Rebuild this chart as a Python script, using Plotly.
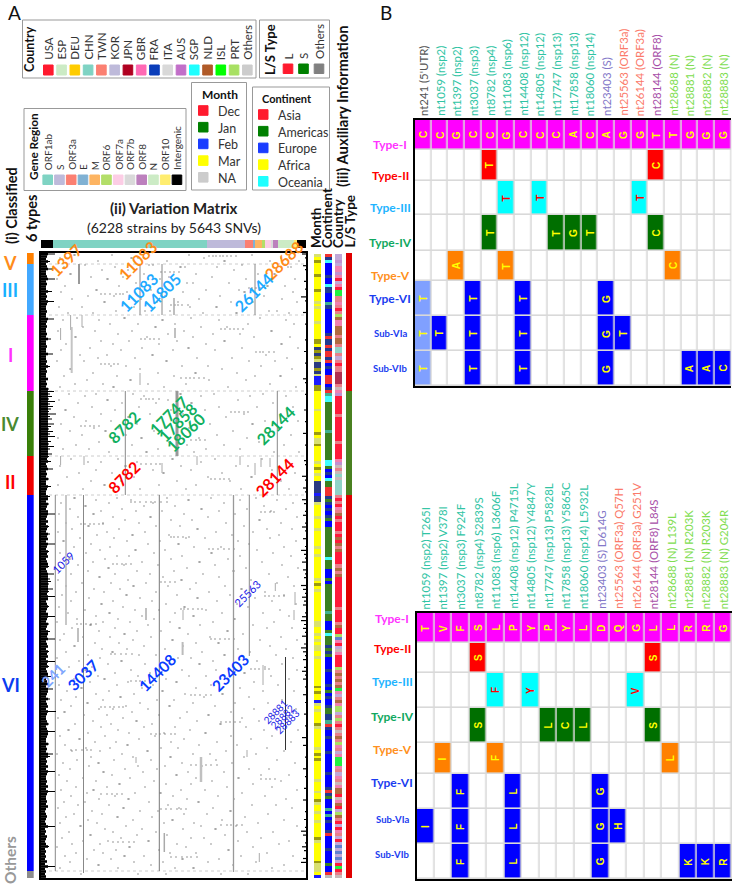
# Overview figure of SNV classes: variation matrix (A) and signature tables (B)
import plotly.graph_objects as go

FONT = "Lato"
W, H = 732, 886

# ---- panel A data ----
type_names = ["V", "III", "I", "IV", "II", "VI", "Others"]
type_rows = [11, 51, 76, 65, 39, 376, 7]
type_colors = ["#ff8000", "#42a8ff", "#ff00ff", "#3a8009", "#ee0000", "#0000ff", "#8c8c8c"]
ls_rows = [138, 104, 383]
ls_colors = ["#e00000", "#4a8020", "#e00000"]

gene_names = ["ORF1ab", "S", "ORF3a", "E", "M", "ORF6", "ORF7a", "ORF7b", "ORF8", "N", "ORF10", "Intergenic"]
gene_colors = ["#7fd3c3", "#bebada", "#fb8072", "#80b1d3", "#fdb462", "#b3de69", "#fccde5", "#d9d9d9",
               "#bc80bd", "#ccebc5", "#ffed6f", "#000000"]
gene_track = [("Intergenic", 12.3), ("ORF1ab", 153.3), ("S", 38), ("ORF3a", 9), ("E", 1), ("M", 7.5), ("ORF6", 3),
              ("ORF7a", 6.5), ("ORF7b", 1), ("ORF8", 5), ("N", 16), ("ORF10", 3), ("Intergenic", 9.4)]

country_names = ["USA", "ESP", "DEU", "CHN", "TWN", "KOR", "JPN", "GBR", "FRA", "ITA", "AUS", "SGP", "NLD", "ISL", "PRT", "Others"]
country_colors = ["#ff1a2e", "#ccebc5", "#ffcc00", "#7fd3c3", "#fb8072", "#bebada", "#b00020", "#ff69b4", "#0a3dba",
                  "#d9d9d9", "#c26fc9", "#1effff", "#b05a28", "#00ff00", "#a8e063", "#cccccc"]
ls_names = ["L", "S", "Others"]
ls_legend_colors = ["#ff1a2e", "#008000", "#808080"]
month_names = ["Dec", "Jan", "Feb", "Mar", "NA"]
month_legend_colors = ["#ff1a2e", "#008000", "#1a3cff", "#ffff00", "#cccccc"]
continent_names = ["Asia", "Americas", "Europe", "Africa", "Oceania"]
continent_legend_colors = ["#ff1a2e", "#008000", "#1a3cff", "#ffff00", "#1effff"]

# one letter for about 3 matrix rows, top to bottom, as read from the auxiliary columns
month_track = ("lyoyyyyoyyyyoyyylylyyyylyyyyyooynonolnnonlFF"
               "FooyyyyyylyyyyyyyoylloyyyyylyoylyynnnnFnnlyyyy"
               "lyyylyyyyylyylyyyyyyylyoylyyyyyyyyyyllyylyl"
               "yllyylyyyyyyyyyoyoyyFlylyyyyolyyyyyylyoyoyyy"
               "yyylyyylyyolyylyylyyyyyolyyyyyyolllyF")
continent_track = ("AnOEEEEnEEOnnEEEtnEEEEEEEEnAnnAnAAnAEnEEAA"
                   "AEnAtOOMMMMMMMMMtMMMMMMMMMOOMEnEOMMAAAnMnEnE"
                   "nMEEMMMMMMMMMMOMMMEEEMEMMMMMMMMMtMMEEEMOM"
                   "MMnMnMEEEEnEEEEnEMEnEEnMMnntAnEEnEEEEnEEEE"
                   "EEnEEEEnAnMEEEtEtEnEEnAEEEEnEEEEMEEAg")
country_track = ("KKAKGGAGUKGULLTTGTUTPNGGNNNTNNTCCTKTUTTJJ"
                 "JJTOGAUUUUUUTUUUUUUUUTUUUUUGAOTOCOCCCCCTUTUG"
                 "TNUTUUUTUNUNTNUUUUTNTNUUUUUUUUUUTUUUUTNUUPFGUK"
                 "OGUUUUPTNTNTNLGKTNGPPKTPTUTOTNTPGTKGLLL"
                 "GTKGTOGNNUOGNUKPNTUKUGTKUKFKFKFKULUTO")
month_letters = ["D", "J", "F", "M", "N", "y", "l", "o", "n"]
month_track_colors = ["#ff1a2e", "#008000", "#1a1aff", "#ffff00", "#cccccc", "#ffff00", "#d8e070", "#9a9a10", "#2a3a80"]
continent_letters = ["A", "M", "E", "F", "O", "t", "n", "g"]
continent_track_colors = ["#f03030", "#3a8020", "#0000ff", "#ffff00", "#40ffff", "#40b090", "#203a90", "#bbbbbb"]
country_letters = ["U", "E", "D", "C", "T", "K", "J", "G", "F", "I", "A", "S", "N", "L", "P", "O"]
country_track_colors = ["#ff1a3a", "#ccebc5", "#ffcc00", "#8fd3c7", "#e8808a", "#c0a8d8", "#b03050", "#f080b0",
                        "#6080d0", "#d0d0d0", "#c090d0", "#60e0e0", "#b06a40", "#20f040", "#a8e063", "#c8b8b8"]

# vertical streaks of the matrix: column, first row, last row, grey, width
streak_col = [14.3, 25, 42.5, 118.3, 192.5, 208.3, 244.5, 99, 121, 214, 38, 133, 29.6, 30.7, 41, 19.6, 134, 99,
              84.3, 136, 236.3, 19.6, 43, 121, 156, 199, 214, 220, 229,
              105, 142, 141.6, 37, 222, 234.3, 254, 253, 160, 95, 123.3, 218.3, 206]
streak_top = [242, 242, 242, 242, 242, 242, 404, 11, 11, 11, 11, 45, 62, 74, 62, 75, 75, 120,
              138, 138, 138, 203, 203, 210, 203, 203, 210, 205, 205,
              355, 357, 389, 375, 412, 330, 339, 357, 504, 504, 580, 600, 497]
streak_bot = [618, 372, 620, 618, 619, 403, 497, 62, 62, 62, 31, 62, 77, 120, 74, 87, 85, 132,
              242, 203, 242, 212, 212, 220, 212, 212, 222, 214, 214,
              367, 367, 402, 389, 432, 338, 352, 367, 529, 510, 599, 609, 504]
streak_grey = ["#888888", "#b4b4b4", "#888888", "#777777", "#999999", "#888888", "#333333", "#888888", "#888888", "#888888",
               "#999999", "#aaaaaa", "#aaaaaa", "#c4c4c4", "#aaaaaa", "#aaaaaa", "#c0c0c0", "#aaaaaa",
               "#888888", "#999999", "#888888", "#aaaaaa", "#aaaaaa", "#aaaaaa", "#aaaaaa", "#aaaaaa", "#aaaaaa", "#aaaaaa", "#aaaaaa",
               "#c0c0c0", "#aaaaaa", "#bbbbbb", "#c0c0c0", "#aaaaaa", "#aaaaaa", "#aaaaaa", "#aaaaaa", "#c0c0c0", "#aaaaaa", "#aaaaaa",
               "#aaaaaa", "#aaaaaa"]
streak_width = [1, 1.5, 1, 1, 1.3, 1, 1, 1, 1, 1, 2, 1.5, 1, 2, 1, 1, 2, 1,
                1, 3, 1, 1, 1, 1, 1, 1, 1, 1, 1,
                2, 1, 2, 2, 1, 1, 1, 1, 2.5, 1, 1.5, 1, 1]

boundary_rows = [11, 62, 138, 203, 242, 618]

# black fringe at the left of the matrix, every 2.5 rows
left_depth = [14, 6, 5, 9, 5, 6, 12, 5, 5, 6, 14, 5, 6, 5, 5, 11, 5, 6, 5, 13, 6, 5, 5, 6, 5, 5, 13, 6, 5, 6,
              5, 5, 6, 5, 10, 5, 5, 6, 5, 5, 12, 5, 5, 6, 5, 9, 5, 6, 5, 5, 7, 5, 6, 5, 8,
              13, 9, 11, 8, 14, 9, 12, 10, 8, 15, 9, 11, 7, 13, 10, 8, 12, 9, 14, 7, 10, 8, 13, 9, 7, 11, 8,
              6, 10, 5, 6, 12, 5, 6, 5, 8, 5, 5, 10, 6, 5, 5, 9,
              7, 5, 8, 6, 5, 7, 14, 6, 5, 7, 5, 8, 6, 5, 9, 6, 7, 5, 14, 6, 5, 8, 6, 7, 5, 6, 7, 8, 5, 6, 13,
              7, 9, 10, 8, 7, 12, 8, 6, 14, 7, 5, 6, 8, 6, 5, 7, 14, 6, 5, 8, 6, 5, 9, 7, 6, 14, 5, 6, 7, 5, 8,
              6, 7, 5, 14, 6, 8, 5, 6, 7, 10, 5, 6, 8, 5, 12, 7, 6, 5, 9, 5, 6, 7, 5, 15, 6, 5, 5, 6, 8, 5, 6,
              14, 7, 6, 5, 5, 8, 5, 6, 5, 12, 9, 5, 6, 5, 7, 5, 14, 6, 5, 5, 6, 5, 7, 5, 14, 6, 5, 5, 6, 5, 7, 5,
              4, 5, 6, 5, 4, 5, 14, 4, 5, 4, 6, 5, 4, 5, 8, 4, 5, 4, 5, 4, 6, 4, 14, 4, 5, 4, 5, 4, 6, 4]
# black fringe at the right of the matrix, every 4 rows
right_depth = [4, 1, 0, 3, 1, 0, 0, 2, 0, 1, 0, 5, 1, 0, 0, 3, 0, 0, 1, 0, 0, 0, 1, 0, 0, 2, 0, 0, 1, 0,
               0, 0, 3, 1, 0, 0, 1, 0, 0, 0, 2, 0, 0, 1, 0, 0, 3, 0, 0, 1, 0, 0, 0, 2, 1, 0, 0, 4, 1, 0,
               3, 1, 0, 4, 2, 0, 1, 3, 0, 1, 4, 1, 0, 3, 0, 1, 5, 2, 1, 4, 0, 3, 1, 2, 0, 5, 3, 1, 4, 2,
               3, 0, 1, 4, 5, 2, 3, 1, 4, 0, 2, 5, 3, 1, 3, 0, 2, 4, 1, 3, 0, 1, 0, 3, 0, 1, 0, 0, 2, 0,
               0, 1, 0, 0, 4, 0, 3, 0, 0, 1, 0, 0, 3, 0, 1, 0, 0, 2, 0, 0, 3, 0, 0, 1, 0, 2, 0, 1, 5, 3,
               0, 1, 4, 2, 0, 3, 5]

# isolated variant specks, read as row then columns
speck_rows = [
    [2, 33, 34, 71, 148, 211], [5, 19, 90, 91, 97, 163, 240], [8, 57, 126, 183, 184, 229, 258], [12, 44, 108, 112, 201],
    [14, 23, 74, 139, 140, 144, 176, 247, 250], [17, 61, 87, 193], [21, 29, 30, 103, 155, 217, 233, 234],
    [24, 50, 82, 128, 171], [26, 16, 66, 67, 119, 205, 254], [30, 38, 95, 146, 152, 188], [33, 24, 78, 131, 226, 227, 244],
    [37, 55, 56, 110, 165, 198], [39, 20, 86, 142, 203, 204, 252], [43, 47, 73, 124, 125, 179, 223], [46, 31, 100, 158, 241],
    [49, 63, 64, 116, 137, 190, 212, 256], [54, 18, 41, 93, 149, 175, 176], [58, 75, 104, 129, 228, 236],
    [60, 27, 52, 162, 195, 196, 248],
    [65, 36, 83, 84, 150, 219], [67, 22, 58, 121, 122, 178, 245], [71, 69, 97, 134, 207, 253], [74, 42, 114, 115, 160, 186],
    [78, 17, 54, 91, 143, 230, 231], [81, 77, 127, 172, 199], [84, 34, 35, 106, 152, 213, 249], [88, 60, 88, 136, 183, 184],
    [91, 25, 72, 118, 165, 240, 241], [95, 49, 101, 147, 148, 201, 257], [97, 20, 80, 132, 174], [102, 39, 66, 111, 112, 225],
    [105, 57, 94, 156, 191, 246], [108, 16, 43, 125, 126, 208, 234], [113, 70, 85, 141, 167, 220], [116, 29, 30, 99, 181, 251],
    [120, 52, 117, 154, 155, 196], [123, 23, 76, 133, 214, 239, 240], [127, 46, 89, 90, 168, 205], [131, 34, 62, 107, 145, 229],
    [134, 19, 72, 73, 123, 187, 255],
    [141, 28, 55, 92, 139, 140, 173, 222], [143, 44, 103, 160, 209, 245], [147, 18, 66, 67, 127, 197], [150, 37, 81, 115, 150, 151, 232],
    [154, 51, 98, 178, 216, 252], [157, 24, 25, 74, 130, 164], [161, 60, 109, 142, 203, 240], [164, 33, 87, 88, 120, 185],
    [168, 45, 70, 135, 155, 224, 257], [171, 20, 96, 169, 211, 212], [175, 53, 78, 124, 148, 237], [178, 29, 64, 65, 113, 192],
    [182, 41, 85, 137, 176, 227, 250], [185, 17, 100, 101, 158, 206], [189, 58, 73, 128, 129, 218], [192, 35, 91, 146, 183, 243],
    [196, 22, 48, 117, 165, 199], [199, 68, 105, 106, 153, 233, 258],
    [206, 30, 77, 131, 132, 174, 221], [209, 47, 60, 96, 160, 246], [213, 19, 84, 85, 140, 195, 207], [217, 55, 112, 150, 231],
    [220, 38, 71, 122, 123, 181, 254], [224, 26, 93, 167, 210, 211], [228, 50, 80, 136, 189, 240], [232, 17, 63, 64, 118, 155, 225],
    [236, 42, 99, 145, 200, 248],
    [245, 33, 34, 76, 126, 170, 215], [247, 55, 90, 147, 148, 199, 236], [250, 20, 68, 112, 183, 252], [253, 44, 45, 103, 134, 223],
    [256, 29, 81, 160, 161, 206, 245], [258, 60, 95, 121, 178, 230], [261, 18, 52, 53, 143, 194], [264, 37, 72, 109, 110, 167, 256],
    [267, 84, 130, 151, 218, 219], [270, 25, 62, 98, 185, 240], [273, 47, 48, 115, 139, 203], [276, 31, 78, 156, 157, 226, 251],
    [279, 17, 66, 104, 175, 212], [282, 56, 91, 92, 128, 191, 238], [285, 39, 73, 145, 164, 229], [288, 22, 23, 86, 119, 197, 255],
    [291, 50, 107, 137, 138, 208], [294, 33, 69, 153, 180, 243], [297, 59, 94, 95, 124, 216], [300, 19, 45, 113, 170, 171, 232],
    [303, 76, 88, 141, 199, 250], [306, 28, 29, 64, 130, 187], [309, 52, 101, 158, 159, 221], [312, 37, 83, 117, 174, 241],
    [315, 20, 67, 68, 146, 205, 257], [318, 47, 96, 133, 192, 193], [321, 30, 74, 109, 162, 228], [324, 58, 59, 122, 178, 247],
    [327, 17, 87, 140, 141, 210], [330, 41, 70, 105, 155, 236], [333, 25, 92, 93, 127, 184, 253], [336, 53, 79, 149, 200, 201],
    [339, 35, 63, 115, 168, 224], [342, 21, 85, 86, 136, 189, 243], [345, 48, 99, 156, 157, 214], [348, 30, 72, 111, 176, 231],
    [351, 60, 61, 125, 196, 255], [354, 18, 82, 143, 144, 207], [357, 44, 94, 118, 165, 239], [360, 27, 68, 69, 134, 181, 222],
    [363, 55, 101, 152, 153, 248], [366, 36, 77, 113, 193, 194], [369, 16, 62, 89, 129, 172, 233], [372, 49, 50, 107, 159, 212],
    [375, 31, 74, 138, 139, 226, 251], [378, 58, 96, 120, 186, 187], [381, 23, 83, 84, 147, 202], [384, 42, 69, 110, 169, 240],
    [387, 19, 92, 131, 132, 219, 256], [390, 54, 78, 155, 177, 178], [393, 33, 34, 103, 142, 229], [396, 61, 86, 124, 197, 245],
    [399, 25, 71, 72, 161, 209], [402, 47, 98, 115, 183, 184, 235], [405, 16, 59, 137, 150, 252], [408, 38, 80, 81, 127, 172, 216],
    [411, 67, 104, 158, 159, 241], [414, 28, 51, 119, 192, 224], [417, 44, 45, 90, 141, 175, 256], [420, 21, 74, 109, 203, 204],
    [423, 57, 97, 148, 165, 230], [426, 33, 63, 64, 125, 186, 248], [429, 49, 87, 135, 136, 213], [432, 18, 76, 112, 170, 237],
    [435, 40, 41, 101, 155, 199], [438, 26, 68, 121, 122, 222, 253], [441, 55, 93, 144, 181, 182], [444, 35, 79, 80, 163, 208],
    [447, 20, 62, 116, 133, 241], [450, 46, 47, 99, 152, 194, 227], [453, 30, 85, 128, 129, 174], [456, 58, 72, 107, 213, 255],
    [459, 23, 24, 91, 146, 190], [462, 43, 66, 118, 167, 168, 233], [465, 17, 82, 139, 201, 246], [468, 52, 95, 96, 156, 218],
    [471, 34, 70, 111, 179, 180], [474, 60, 103, 134, 205, 239], [477, 27, 28, 77, 149, 223, 257], [480, 47, 88, 123, 164, 165],
    [483, 19, 64, 114, 190, 231], [486, 38, 39, 98, 143, 210], [489, 54, 75, 130, 176, 250], [492, 24, 86, 87, 158, 196],
    [495, 45, 69, 120, 137, 226], [498, 31, 59, 106, 107, 185, 243], [501, 16, 81, 152, 169, 215], [504, 50, 92, 129, 130, 203],
    [507, 36, 73, 110, 175, 236], [510, 22, 57, 58, 141, 191, 254], [513, 48, 97, 124, 160, 161], [516, 29, 84, 116, 208, 228],
    [519, 62, 63, 102, 147, 183], [522, 18, 71, 135, 136, 220, 248], [525, 42, 89, 155, 197, 198], [528, 26, 55, 113, 171, 240],
    [531, 78, 79, 125, 150, 212], [534, 35, 66, 104, 186, 231], [537, 20, 52, 53, 140, 164, 256], [540, 46, 94, 119, 120, 201],
    [543, 30, 74, 132, 177, 224], [546, 58, 87, 88, 146, 193, 245], [549, 23, 44, 108, 157, 158], [552, 37, 68, 127, 211, 235],
    [555, 17, 82, 83, 138, 172, 251], [558, 51, 99, 117, 189, 190], [561, 33, 61, 143, 166, 227], [564, 25, 76, 77, 111, 204],
    [567, 47, 92, 131, 132, 181, 243], [570, 19, 56, 123, 153, 217], [573, 39, 40, 85, 160, 195, 256], [576, 64, 101, 142, 174, 175],
    [579, 28, 72, 115, 206, 232], [582, 49, 50, 96, 126, 184], [585, 21, 80, 150, 163, 220], [588, 42, 67, 107, 108, 197, 248],
    [591, 31, 59, 136, 170, 238], [594, 16, 88, 89, 145, 212], [597, 53, 75, 118, 187, 188], [600, 35, 62, 129, 155, 226],
    [603, 24, 83, 84, 103, 200, 252], [606, 46, 70, 141, 142, 178], [609, 29, 93, 122, 167, 215], [612, 57, 58, 110, 192, 243],
    [615, 19, 77, 134, 152, 153, 231], [621, 40, 97, 125, 180, 207],
]
# horizontal runs of specks where several neighbouring strains share variants
speck_runs = [
    [3, 168, 172, 175, 179, 182, 186, 190, 195], [19, 120, 124, 129, 133, 138], [35, 208, 211, 215, 219, 224], [41, 60, 64, 69, 75, 79, 82],
    [52, 130, 134, 137, 141, 147], [76, 180, 184, 189, 193, 197, 202], [86, 100, 104, 109, 113, 118], [99, 215, 219, 222, 228, 233],
    [111, 60, 64, 68, 73, 77], [125, 140, 145, 149, 153, 158, 163], [146, 100, 105, 108, 112, 118], [159, 190, 194, 198, 203, 207],
    [173, 40, 44, 49, 53, 58], [187, 150, 155, 159, 164], [211, 100, 105, 110, 115, 119], [226, 170, 174, 179, 183, 188],
    [249, 90, 94, 99, 105, 110, 114, 120, 126], [259, 220, 224, 229, 233], [271, 40, 44, 49, 53, 58, 62], [284, 130, 133, 137, 142, 148],
    [296, 168, 172, 177, 183, 188, 193], [311, 72, 76, 81, 85, 90], [329, 120, 124, 129, 134], [343, 224, 228, 233, 238, 243],
    [356, 140, 143, 147, 152, 157, 161], [371, 36, 40, 45, 50, 55], [386, 170, 174, 179, 184, 188, 193], [401, 70, 74, 80, 85, 91],
    [416, 210, 214, 218, 224, 228], [428, 90, 95, 99, 104], [442, 150, 154, 159, 165, 170], [454, 60, 64, 69, 73, 78, 82],
    [469, 180, 185, 189, 194, 199], [481, 110, 115, 119, 124, 130, 134], [497, 30, 35, 41, 46, 50], [512, 150, 155, 160, 165, 170, 176],
    [526, 220, 225, 229, 234], [541, 60, 66, 71, 76, 81], [556, 120, 125, 130, 136, 140, 145], [572, 180, 186, 190, 196, 201],
    [589, 72, 77, 82, 88, 93], [604, 130, 135, 141, 146, 150, 156],
]

# numbered annotations on the matrix: nt position, column, row, size, colour
matrix_labels = ["1397", "11083", "28688", "11083", "14805", "26144", "8782", "17747", "17858", "18060", "28144",
                 "8782", "28144", "1059", "25563", "241", "3037", "14408", "23403", "28881", "28882", "28883"]
matrix_label_col = [24, 96, 242, 97, 120, 212, 82, 127, 136, 144, 234, 82, 233, 22, 206, 12, 42, 116, 189, 234, 241, 246]
matrix_label_row = [7, 7, 7, 39, 39, 39, 174, 162, 169, 179, 172, 224, 224, 309, 340, 422, 422, 420, 420, 459, 464, 469]
matrix_label_size = [16, 16, 16, 16, 16, 16, 16, 16, 16, 16, 16, 16, 16, 11, 11, 15, 15.5, 15.5, 15.5, 10, 10, 10]
matrix_label_color = ["#ff8c1a"] * 3 + ["#1eaaff"] * 3 + ["#10b060"] * 5 + ["#ff0000"] * 2 + ["#1a1ae6"] * 2 + \
                     ["#80a6ff"] + ["#0a3cff"] * 3 + ["#1a1ae6"] * 3

# ---- panel B data ----
row_labels = ["Type-I", "Type-II", "Type-III", "Type-IV", "Type-V", "Type-VI", "Sub-VIa", "Sub-VIb"]
row_colors = ["#ff33ff", "#ff0000", "#1eb4ff", "#10a860", "#ff9020", "#1a3cf0", "#1a3cf0", "#1a3cf0"]
row_sizes = [12, 12, 12, 12, 12, 12, 9.5, 9.5]
cell_colors = ["#ff00ff", "#ff0000", "#00ffff", "#006f00", "#ff8000", "#0000ff", "#0000ff", "#0000ff"]
letter_colors = ["#ffff00", "#ffff00", "#ff0000", "#ffff00", "#ffff00", "#ffff00", "#ffff00", "#ffff00"]

nt_cols = ["nt241 (5'UTR)", "nt1059 (nsp2)", "nt1397 (nsp2)", "nt3037 (nsp3)", "nt8782 (nsp4)", "nt11083 (nsp6)",
           "nt14408 (nsp12)", "nt14805 (nsp12)", "nt17747 (nsp13)", "nt17858 (nsp13)", "nt18060 (nsp14)", "nt23403 (S)",
           "nt25563 (ORF3a)", "nt26144 (ORF3a)", "nt28144 (ORF8)", "nt28688 (N)", "nt28881 (N)", "nt28882 (N)", "nt28883 (N)"]
nt_col_colors = ["#555555"] + ["#30c4a4"] * 10 + ["#8478c8", "#fb7a6a", "#fb7a6a", "#a850a8"] + ["#80dd50"] * 4
nt_rows = ["CCGCCGCCCACAGGTTGGG",
           "....T.........C....",
           ".....T.T.....T.....",
           "....T...TGT...C....",
           "..A..T.........C...",
           "T..T..T....G.......",
           "TT.T..T....GT......",
           "T..T..T....G....AAC"]
nt_edges = [0, 30, 61, 95, 131, 161, 196, 231, 266]

aa_cols = ["nt1059 (nsp2) T265I", "nt1397 (nsp2) V378I", "nt3037 (nsp3) F924F", "nt8782 (nsp4) S2839S",
           "nt11083 (nsp6) L3606F", "nt14408 (nsp12) P4715L", "nt14805 (nsp12) Y4847Y", "nt17747 (nsp13) P5828L",
           "nt17858 (nsp13) Y5865C", "nt18060 (nsp14) L5932L", "nt23403 (S) D614G", "nt25563 (ORF3a) Q57H",
           "nt26144 (ORF3a) G251V", "nt28144 (ORF8) L84S", "nt28688 (N) L139L", "nt28881 (N) R203K", "nt28882 (N) R203K",
           "nt28883 (N) G204R"]
aa_col_colors = ["#30c4a4"] * 10 + ["#8478c8", "#fb7a6a", "#fb7a6a", "#a850a8"] + ["#80dd50"] * 4
aa_rows = ["TVFSLPYPYLDQGLLRRG",
           "...S.........S....",
           "....F.Y.....V.....",
           "...S...LCL...S....",
           ".I..F.........L...",
           "..F..L....G.......",
           "I.F..L....GH......",
           "..F..L....G....KKR"]
aa_edges = [0, 30, 60, 95, 130, 161, 196, 231, 266]


def px(x):
    return x / W


def py(y):
    return 1 - y / H


def dom_x(a, b):
    return [px(a), px(b)]


def dom_y(a, b):
    return [py(b), py(a)]


def steps(colors):
    n = len(colors)
    out = []
    for i, c in enumerate(colors):
        out += [[i / n, c], [(i + 1) / n, c]]
    return out


annots = []
shapes = []


def txt(x, y, s, size=11, color="#222222", angle=0, bold=False, xa="center", ya="middle"):
    annots.append(dict(x=px(x), y=py(y), xref="paper", yref="paper", text="<b>%s</b>" % s if bold else s,
                       showarrow=False, textangle=angle, xanchor=xa, yanchor=ya,
                       font=dict(family=FONT, size=size, color=color)))


def box(x0, y0, x1, y1, fill=None, line="#999999", lw=1):
    shapes.append(dict(type="rect", xref="paper", yref="paper", x0=px(x0), x1=px(x1), y0=py(y0), y1=py(y1),
                       fillcolor=fill or "rgba(0,0,0,0)", line=dict(color=line, width=lw)))


fig = go.Figure()

# variation matrix: specks, streaks, fringes
bx, by = [], []
for r in boundary_rows:
    bx += [8, 265, None]
    by += [r, r, None]
fig.add_trace(go.Scatter(x=bx, y=by, mode="lines", line=dict(color="#cccccc", width=1, dash="dot"), hoverinfo="skip"))

sx, sy = [], []
for row in speck_rows + speck_runs:
    for c in row[1:]:
        sx.append(c)
        sy.append(row[0])
fig.add_trace(go.Scatter(x=sx, y=sy, mode="markers", marker=dict(symbol="square", size=1.2, color="#555555", line=dict(width=0)),
                         hoverinfo="skip"))

for c, a, b, g, w in zip(streak_col, streak_top, streak_bot, streak_grey, streak_width):
    fig.add_trace(go.Scatter(x=[c, c], y=[a, b], mode="lines", line=dict(color=g, width=w), hoverinfo="skip"))

base_x, base_y, spike_x, spike_y = [], [], [], []
for i, d in enumerate(left_depth):
    y = i * 2.5 + 1
    base_x += [0, min(d, 7), None]
    base_y += [y, y, None]
    if d > 7:
        spike_x += [0, d, None]
        spike_y += [y, y, None]
fig.add_trace(go.Scatter(x=base_x, y=base_y, mode="lines", line=dict(color="#000000", width=2.6), hoverinfo="skip"))
fig.add_trace(go.Scatter(x=spike_x, y=spike_y, mode="lines", line=dict(color="#000000", width=1), hoverinfo="skip"))
fringe_x, fringe_y = [], []
for i, d in enumerate(right_depth):
    if d > 0:
        fringe_x += [265 - d, 265, None]
        fringe_y += [i * 3.9 + 1, i * 3.9 + 1, None]
fig.add_trace(go.Scatter(x=fringe_x, y=fringe_y, mode="lines", line=dict(color="#000000", width=1.2), hoverinfo="skip"))

for i, s in enumerate(matrix_labels):
    annots.append(dict(x=matrix_label_col[i], y=matrix_label_row[i], xref="x", yref="y",
                       text="<b>%s</b>" % s if matrix_label_size[i] > 12 else s, showarrow=False, textangle=-45,
                       font=dict(family=FONT, size=matrix_label_size[i], color=matrix_label_color[i])))

# gene track above the matrix
for name, length in gene_track:
    fig.add_trace(go.Bar(x=[length], y=[0], orientation="h", width=1, marker=dict(color=gene_colors[gene_names.index(name)], line=dict(width=0)),
                         xaxis="x2", yaxis="y2", hoverinfo="skip"))

# auxiliary columns
for track, letters, colors, left in [(month_track, month_letters, month_track_colors, 0),
                                     (continent_track, continent_letters, continent_track_colors, 11),
                                     (country_track, country_letters, country_track_colors, 21)]:
    codes = [letters.index(ch) for ch in track]
    step = 624 / len(codes)
    fig.add_trace(go.Heatmap(z=[[c] for c in codes], x=[left, left + 7], y0=1 + step / 2, dy=step,
                             zmin=-0.5, zmax=len(colors) - 0.5, colorscale=steps(colors), showscale=False,
                             xaxis="x5", yaxis="y", hoverinfo="skip"))
for n, c in zip(ls_rows, ls_colors):
    fig.add_trace(go.Bar(x=[35], y=[n], width=6.5, marker=dict(color=c, line=dict(width=0)), xaxis="x5", yaxis="y", hoverinfo="skip"))

# classified types column
for n, c in zip(type_rows, type_colors):
    fig.add_trace(go.Bar(x=[0], y=[n], width=1, marker=dict(color=c, line=dict(width=0)), xaxis="x6", yaxis="y", hoverinfo="skip"))


# signature tables of panel B
def add_table(rows, edges, xname, yname):
    z = []
    for r, row in enumerate(rows):
        z.append([r + 1 if ch != "." else 0 for ch in row])
    n = len(rows[0])
    scale = ["#ffffff"] + cell_colors
    if n == 19:
        # nt241 is drawn paler in the nucleotide table
        scale = scale + ["#80a0ff"]
        for r in (5, 6, 7):
            z[r][0] = 9
    fig.add_trace(go.Heatmap(z=z, x=list(range(n + 1)), y=edges, zmin=-0.5, zmax=len(scale) - 0.5, colorscale=steps(scale), showscale=False,
                             xgap=1.6, ygap=1.6, xaxis=xname, yaxis=yname, hoverinfo="skip"))
    for r, row in enumerate(rows):
        for c, ch in enumerate(row):
            if ch != ".":
                annots.append(dict(x=c + 0.5, y=(edges[r] + edges[r + 1]) / 2, xref=xname, yref=yname, text="<b>%s</b>" % ch, showarrow=False,
                                   textangle=-90, font=dict(family="Liberation Sans", size=10, color=letter_colors[r])))


add_table(nt_rows, nt_edges, "x3", "y3")
add_table(aa_rows, aa_edges, "x4", "y4")
for xr, yr in [("x3", "y3"), ("x4", "y4")]:
    shapes.append(dict(type="rect", xref=xr + " domain", yref=yr + " domain", x0=0, x1=1, y0=0, y1=1, fillcolor="#d9d9d9",
                       line=dict(width=0), layer="below"))

for i, s in enumerate(nt_cols):
    annots.append(dict(x=i + 0.5, y=py(118), xref="x3", yref="paper", text=s, showarrow=False, textangle=-90, yanchor="bottom",
                       font=dict(family=FONT, size=11.4, color=nt_col_colors[i])))
for i, s in enumerate(aa_cols):
    annots.append(dict(x=i + 0.5, y=py(611), xref="x4", yref="paper", text=s, showarrow=False, textangle=-90, yanchor="bottom",
                       font=dict(family=FONT, size=11.4, color=aa_col_colors[i])))
for i, s in enumerate(row_labels):
    annots.append(dict(x=px(390), y=py(120 + (nt_edges[i] + nt_edges[i + 1]) / 2), xref="paper", yref="paper", text="<b>%s</b>" % s, showarrow=False,
                       font=dict(family=FONT, size=row_sizes[i], color=row_colors[i])))
    annots.append(dict(x=px(392), y=py(613 + (aa_edges[i] + aa_edges[i + 1]) / 2), xref="paper", yref="paper", text="<b>%s</b>" % s, showarrow=False,
                       font=dict(family=FONT, size=row_sizes[i], color=row_colors[i])))

# legends
box(22.5, 20, 256, 78)
txt(30, 49, "Country", 12.5, "#111111", -90, True)
for i, (s, c) in enumerate(zip(country_names, country_colors)):
    cx = 48.3 + i * 13.27
    box(cx - 4.8, 65, cx + 4.8, 75, c, c)
    txt(cx, 62, s, 11.5, "#333333", -90, ya="bottom")
box(259.5, 20, 329.5, 78)
txt(270, 50, "L/S Type", 13, "#111111", -90, True)
for i, (s, c) in enumerate(zip(ls_names, ls_legend_colors)):
    cx = 288 + i * 15.5
    box(cx - 4.8, 64, cx + 4.8, 73.5, c, c)
    txt(cx, 61.5, s, 11.5, "#333333", -90, ya="bottom")
box(24, 108.5, 186, 190.5)
txt(34, 147, "Gene Region", 11.8, "#111111", -90, True)
for i, (s, c) in enumerate(zip(gene_names, gene_colors)):
    cx = 47.7 + i * 11.75
    box(cx - 4.8, 175, cx + 4.8, 184.5, c, c)
    txt(cx, 172, s, 10, "#333333", -90, ya="bottom")
box(191.5, 82.5, 246.5, 190)
txt(219.5, 94.5, "Month", 12, "#111111", bold=True)
for i, (s, c) in enumerate(zip(month_names, month_legend_colors)):
    cy = 110.5 + i * 16.7
    box(198.5, cy - 4.8, 208, cy + 4.8, c, c)
    txt(216, cy + 1, s, 12.5, "#333333", xa="left")
box(252.5, 87, 329.5, 190)
txt(259.5, 98.5, "Continent", 11, "#111111", bold=True, xa="left")
for i, (s, c) in enumerate(zip(continent_names, continent_legend_colors)):
    cy = 114.5 + i * 16.7
    box(258.5, cy - 4.8, 268, cy + 4.8, c, c)
    txt(276, cy + 1, s, 12.5, "#333333", xa="left")

txt(14, 12, "A", 19, "#111111")
txt(386, 12, "B", 19, "#111111")
txt(342, 106, "(iii) Auxiliary Information", 14.8, "#111111", -90, True)
txt(12, 206, "(i) Classified", 14.5, "#111111", -90, True)
txt(31, 219, "6 types", 14.5, "#111111", -90, True)
txt(174, 208, "(ii) Variation Matrix", 15, "#222222", bold=True)
txt(174, 228, "(6228 strains by 5643 SNVs)", 14, "#222222")
for s, x in zip(["Month", "Continent", "Country", "L/S Type"], [316, 327, 338, 349]):
    txt(x, 250, s, 13.5, "#111111", -90, True, ya="bottom")
for s, y, c, size in [("V", 263, "#ff8c1a", 18), ("III", 290, "#18b0ff", 18), ("I", 355, "#ff33ff", 18), ("IV", 424, "#4a8a30", 18),
                      ("II", 482, "#ff0000", 18), ("VI", 685, "#0a3cf0", 18)]:
    txt(10, y, s, size, c, bold=True)
txt(10, 860, "Others", 15.5, "#999999", -90, True)

fig.update_layout(
    width=W, height=H, margin=dict(l=0, r=0, t=0, b=0), paper_bgcolor="#ffffff", plot_bgcolor="#ffffff",
    showlegend=False, barmode="stack", annotations=annots, shapes=shapes,
    xaxis=dict(domain=dom_x(41, 306), range=[0, 265], visible=True, showticklabels=False, ticks="", showgrid=False, zeroline=False,
               showline=True, mirror=True, linecolor="#000000", linewidth=1.5),
    yaxis=dict(domain=dom_y(253, 878), range=[625, 0], showticklabels=False, ticks="", showgrid=False, zeroline=False,
               showline=True, mirror=True, linecolor="#000000", linewidth=1.5),
    xaxis2=dict(domain=dom_x(41, 306), range=[0, 265], visible=False, anchor="y2"),
    yaxis2=dict(domain=dom_y(240, 248), range=[-0.5, 0.5], visible=False, anchor="x2"),
    xaxis3=dict(domain=dom_x(414.7, 731.4), range=[0, 19], showticklabels=False, ticks="", showgrid=False, zeroline=False,
                showline=True, mirror=True, linecolor="#000000", linewidth=1.5, anchor="y3"),
    yaxis3=dict(domain=dom_y(120, 386), range=[266, 0], showticklabels=False, ticks="", showgrid=False, zeroline=False,
                showline=True, linecolor="#000000", linewidth=1.5, anchor="x3"),
    xaxis4=dict(domain=dom_x(416.7, 732), range=[0, 18], showticklabels=False, ticks="", showgrid=False, zeroline=False,
                showline=True, mirror=True, linecolor="#000000", linewidth=1.5, anchor="y4"),
    yaxis4=dict(domain=dom_y(613, 879), range=[266, 0], showticklabels=False, ticks="", showgrid=False, zeroline=False,
                showline=True, linecolor="#000000", linewidth=1.5, anchor="x4"),
    xaxis5=dict(domain=dom_x(314, 353), range=[0, 39], visible=False, anchor="y"),
    xaxis6=dict(domain=dom_x(27, 33.7), range=[-0.5, 0.5], visible=False, anchor="y"),
)

fig.write_html("out.html", config={"displayModeBar": False}, post_script="document.body.style.margin='0'")
